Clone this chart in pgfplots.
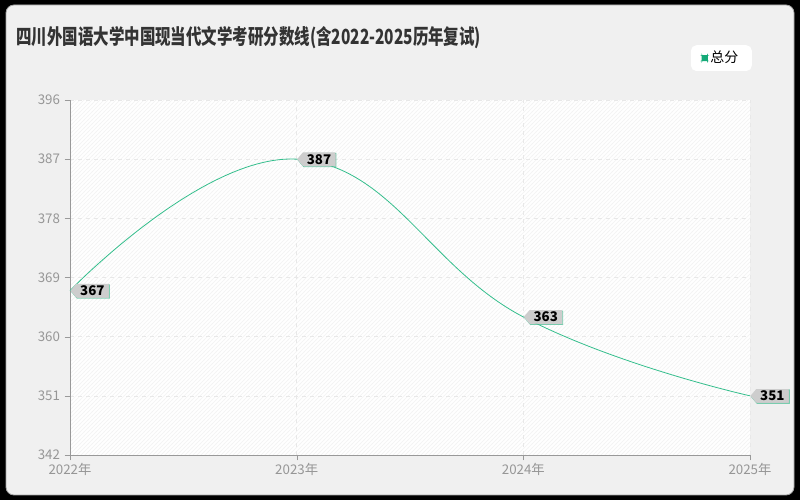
\documentclass[border=0pt]{standalone}
\usepackage{pgfplots}
\pgfplotsset{compat=1.18}
\usepackage{fontspec}
\setmainfont{Noto Sans CJK SC}
\usetikzlibrary{shapes.symbols,patterns,shadows}
\definecolor{linegreen}{RGB}{52,190,140}
\definecolor{keygreen}{RGB}{20,170,120}
\definecolor{panelgray}{RGB}{240,240,240}
\definecolor{ticklab}{RGB}{150,150,150}
\definecolor{tagfill}{RGB}{205,205,205}

\begin{document}
\begin{tikzpicture}
  % background (800 x 500 px, 1px = 0.75pt)
  \begin{scope}[x=0.75pt,y=0.75pt]
    \fill[black] (0,0) rectangle (800,500);
    \fill[panelgray, draw=gray!70, line width=0.6pt, rounded corners=6pt] (6,5) rectangle (794,495);
    \node[anchor=west, inner sep=0pt, text=black!80] at (16,462)
      {\scalebox{1}[1.35]{\fontsize{11.6pt}{13pt}\selectfont\bfseries 四川外国语大学中国现当代文学考研分数线(含2022-2025历年复试)}};
  \end{scope}

  \begin{axis}[
    at={(52.5pt,33.75pt)}, anchor=south west,
    scale only axis,
    width=510pt, height=266.25pt,
    xmin=2022, xmax=2025,
    ymin=342, ymax=396,
    xtick={2022,2023,2024,2025},
    xticklabels={2022年,2023年,2024年,2025年},
    ytick={342,351,360,369,378,387,396},
    /pgf/number format/assume math mode=true,
    ticklabel style={font=\fontsize{10pt}{12pt}\selectfont, text=ticklab},
    xticklabel style={yshift=1pt},
    tick align=outside, tick pos=left,
    major tick length=4pt,
    tick style={draw=gray!80},
    axis line style={draw=gray!80},
    axis x line*=bottom, axis y line*=left,
    xmajorgrids, ymajorgrids,
    grid style={dashed, draw=gray!18},
    axis background/.style={fill=white, postaction={pattern=north east lines, pattern color=gray!10}},
    clip=false,
    legend style={at={(1.003,1.155)}, anchor=north east, draw=none, fill=white,
      rounded corners=4pt, font=\fontsize{10.5pt}{12pt}\selectfont,
      inner xsep=8pt, inner ysep=2.5pt},
    legend image code/.code={\fill[keygreen] (0pt,-2pt) rectangle (4pt,2pt);},
    nodes near coords,
    every node near coord/.append style={
      shape=signal, signal to=west, signal pointer angle=100,
      anchor=west, fill=tagfill, text=black,
      font=\fontsize{10pt}{11pt}\selectfont\bfseries,
      inner xsep=3pt, inner ysep=1.3pt,
      drop shadow={shadow xshift=0.6pt, shadow yshift=-0.6pt, fill=gray!60, opacity=0.6}},
  ]
    \addplot[linegreen, line width=0.6pt, smooth, tension=0.75, mark=none] coordinates {
      (2022,367) (2023,387) (2024,363) (2025,351)
    };
    \addlegendentry{总分}
  \end{axis}
\end{tikzpicture}
\end{document}
